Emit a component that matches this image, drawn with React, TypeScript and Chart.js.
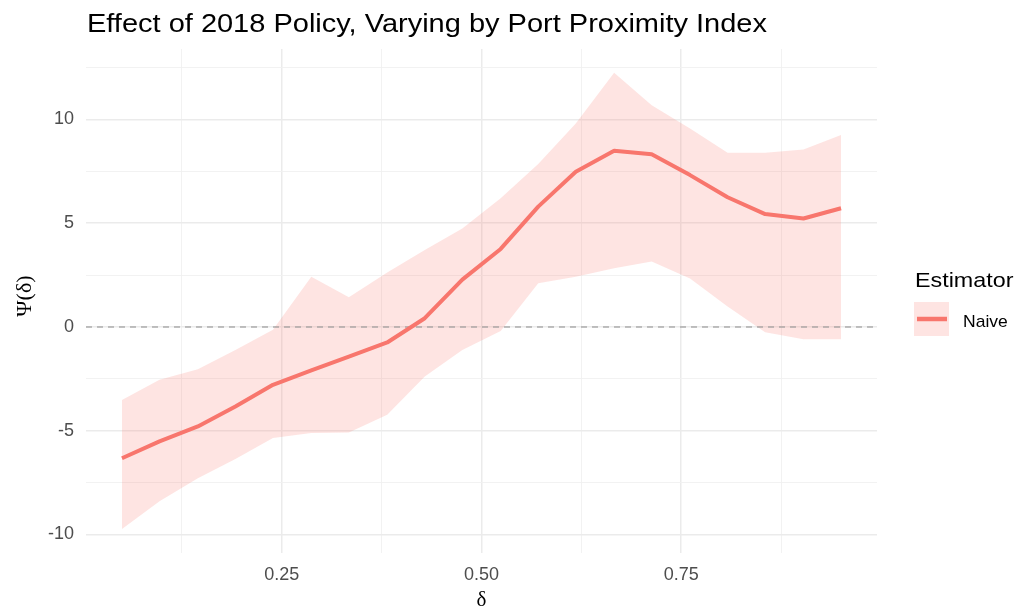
import React, { useEffect, useRef } from "react";
import { Chart, registerables } from "chart.js";

Chart.register(...registerables);

// ---- data ----
const deltaValues = [0.05, 0.097, 0.145, 0.192, 0.239, 0.287, 0.334, 0.382, 0.429, 0.476, 0.524, 0.571, 0.618, 0.666, 0.713, 0.761, 0.808, 0.855, 0.903, 0.95];
const naiveEstimate = [-6.33, -5.52, -4.8, -3.84, -2.79, -2.1, -1.43, -0.75, 0.42, 2.28, 3.76, 5.8, 7.48, 8.49, 8.33, 7.32, 6.25, 5.44, 5.23, 5.72];
const naiveUpper = [-3.52, -2.55, -2.04, -1.11, -0.14, 2.42, 1.43, 2.63, 3.71, 4.75, 6.2, 7.85, 9.81, 12.25, 10.69, 9.57, 8.4, 8.4, 8.56, 9.25];
const naiveLower = [-9.75, -8.41, -7.29, -6.37, -5.36, -5.12, -5.09, -4.24, -2.39, -1.11, -0.2, 2.1, 2.42, 2.83, 3.15, 2.34, 0.98, -0.26, -0.59, -0.59];

const xMajorTicks = [0.25, 0.5, 0.75];
const xTickLabels = ["0.25", "0.50", "0.75"];
const xMinorTicks = [0.125, 0.375, 0.625, 0.875];
const yMajorTicks = [-10, -5, 0, 5, 10];
const yTickLabels = ["-10", "-5", "0", "5", "10"];
const yMinorTicks = [-7.5, -2.5, 2.5, 7.5, 12.5];

const titleText = "Effect of 2018 Policy, Varying by Port Proximity Index";
const xAxisTitle = "δ";
const yAxisTitle = "Ψ(δ)";
const legendTitle = "Estimator";
const seriesName = "Naive";

const LINE_COLOR = "#F8766D";
const BAND_COLOR = "rgba(248,118,109,0.2)";
const SANS = '"Liberation Sans", Arial, sans-serif';
const SERIF = '"Liberation Serif", "DejaVu Serif", serif';

function stretchedText(ctx: CanvasRenderingContext2D, text: string, x: number, y: number, sx: number) {
  ctx.save();
  ctx.translate(x, y);
  ctx.scale(sx, 1);
  ctx.fillText(text, 0, 0);
  ctx.restore();
}

export default function App() {
  const canvasRef = useRef<HTMLCanvasElement | null>(null);

  useEffect(() => {
    const canvas = canvasRef.current;
    if (!canvas) return;

    const toPts = (ys: number[]) => deltaValues.map((x, i) => ({ x, y: ys[i] }));

    const overlay = {
      id: "overlay",
      beforeDatasetDraw(chart: any, args: any) {
        if (args.index !== 0) return;
        const { ctx, chartArea, scales } = chart;
        const y0 = scales.y.getPixelForValue(0);
        ctx.save();
        ctx.strokeStyle = "rgba(150,150,150,0.75)";
        ctx.lineWidth = 1.5;
        ctx.setLineDash([6, 5]);
        ctx.beginPath();
        ctx.moveTo(chartArea.left, y0);
        ctx.lineTo(chartArea.right, y0);
        ctx.stroke();
        ctx.restore();
      },
      afterDraw(chart: any) {
        const { ctx, chartArea } = chart;
        ctx.save();
        // title
        ctx.fillStyle = "#000";
        ctx.font = `26px ${SANS}`;
        ctx.textAlign = "left";
        ctx.textBaseline = "alphabetic";
        stretchedText(ctx, titleText, 87, 32, 1.115);
        // x axis title
        ctx.font = `21px ${SERIF}`;
        ctx.textAlign = "center";
        ctx.fillText(xAxisTitle, (chartArea.left + chartArea.right) / 2, 606);
        // y axis title
        ctx.save();
        ctx.translate(25, (chartArea.top + chartArea.bottom) / 2 - 5);
        ctx.rotate(-Math.PI / 2);
        ctx.font = `22px ${SERIF}`;
        ctx.textAlign = "center";
        ctx.textBaseline = "middle";
        ctx.fillText(yAxisTitle, 0, 0);
        ctx.restore();
        // legend
        ctx.font = `21px ${SANS}`;
        ctx.textAlign = "left";
        ctx.textBaseline = "alphabetic";
        stretchedText(ctx, legendTitle, 915, 287, 1.11);
        ctx.fillStyle = BAND_COLOR;
        ctx.fillRect(914, 302, 35, 34);
        ctx.strokeStyle = LINE_COLOR;
        ctx.lineWidth = 4.5;
        ctx.beginPath();
        ctx.moveTo(917, 319);
        ctx.lineTo(947, 319);
        ctx.stroke();
        ctx.fillStyle = "#000";
        ctx.font = `17px ${SANS}`;
        stretchedText(ctx, seriesName, 963, 327, 1.03);
        ctx.restore();
      },
    };

    const isMajorX = (v: number) => xMajorTicks.some((t) => Math.abs(t - v) < 1e-9);
    const isMajorY = (v: number) => yMajorTicks.some((t) => Math.abs(t - v) < 1e-9);

    const chart = new Chart(canvas, {
      type: "line",
      data: {
        datasets: [
          {
            label: seriesName,
            data: toPts(naiveEstimate),
            borderColor: LINE_COLOR,
            borderWidth: 4,
            pointRadius: 0,
            fill: false,
            tension: 0,
            borderJoinStyle: "round",
            borderCapStyle: "butt",
          },
          {
            label: "upper",
            data: toPts(naiveUpper),
            borderWidth: 0,
            borderColor: "rgba(0,0,0,0)",
            backgroundColor: BAND_COLOR,
            pointRadius: 0,
            fill: "+1",
            tension: 0,
          },
          {
            label: "lower",
            data: toPts(naiveLower),
            borderWidth: 0,
            borderColor: "rgba(0,0,0,0)",
            pointRadius: 0,
            fill: false,
            tension: 0,
          },
        ],
      },
      options: {
        animation: false,
        responsive: false,
        devicePixelRatio: 1,
        layout: { padding: { top: 49, right: 140, left: 0, bottom: 0 } },
        plugins: {
          legend: { display: false },
          title: { display: false },
          tooltip: { enabled: false },
        },
        scales: {
          x: {
            type: "linear",
            min: 0.005,
            max: 0.995,
            afterBuildTicks: (axis: any) => {
              axis.ticks = [...xMinorTicks, ...xMajorTicks]
                .sort((a, b) => a - b)
                .map((v) => ({ value: v }));
            },
            afterFit: (scale: any) => {
              scale.height = 59;
            },
            ticks: {
              autoSkip: false,
              maxRotation: 0,
              padding: 11,
              color: "#4D4D4D",
              font: { family: SANS, size: 18 },
              callback: (value: any) => {
                const i = xMajorTicks.findIndex((t) => Math.abs(t - value) < 1e-9);
                return i >= 0 ? xTickLabels[i] : "";
              },
            },
            grid: {
              drawTicks: false,
              color: (c: any) => (c.tick && isMajorX(c.tick.value) ? "#EBEBEB" : "#F0F0F0"),
              lineWidth: (c: any) => (c.tick && isMajorX(c.tick.value) ? 1.5 : 0.9),
            },
            border: { display: false },
          },
          y: {
            type: "linear",
            min: -10.9,
            max: 13.4,
            afterBuildTicks: (axis: any) => {
              axis.ticks = [...yMinorTicks, ...yMajorTicks]
                .sort((a, b) => a - b)
                .map((v) => ({ value: v }));
            },
            afterFit: (scale: any) => {
              scale.width = 86;
            },
            ticks: {
              autoSkip: false,
              padding: 12,
              color: "#4D4D4D",
              font: { family: SANS, size: 18 },
              callback: (value: any) => {
                const i = yMajorTicks.findIndex((t) => Math.abs(t - value) < 1e-9);
                return i >= 0 ? yTickLabels[i] : "";
              },
            },
            grid: {
              drawTicks: false,
              color: (c: any) => (c.tick && isMajorY(c.tick.value) ? "#EBEBEB" : "#F0F0F0"),
              lineWidth: (c: any) => (c.tick && isMajorY(c.tick.value) ? 1.5 : 0.9),
            },
            border: { display: false },
          },
        },
      } as any,
      plugins: [overlay],
    });

    return () => chart.destroy();
  }, []);

  return (
    <div style={{ position: "absolute", left: 0, top: 0, width: 1017, height: 612, background: "#fff" }}>
      <canvas ref={canvasRef} width={1017} height={612} style={{ display: "block", width: 1017, height: 612 }} />
    </div>
  );
}
